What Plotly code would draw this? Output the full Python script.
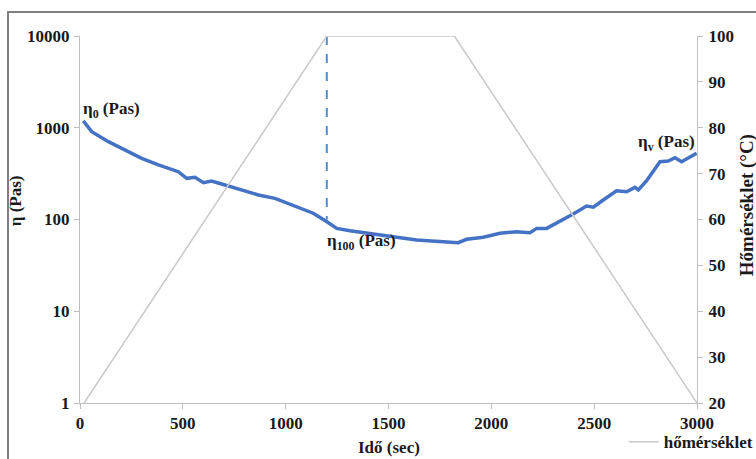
import plotly.graph_objects as go

# Viscosity curve (Pas) vs time (sec)
time_s = [16, 57, 138, 219, 300, 381, 478, 519, 559, 600, 640, 705, 786, 867, 948,
          1029, 1094, 1134, 1199, 1248, 1313, 1394, 1475, 1540, 1637, 1750, 1839,
          1880, 1961, 2042, 2123, 2188, 2220, 2269, 2334, 2398, 2463, 2496, 2544,
          2609, 2658, 2698, 2715, 2755, 2820, 2860, 2893, 2925, 2998]
eta = [1186, 906, 705, 571, 464, 393, 332, 281, 288, 252, 263, 238, 210, 185, 170,
       144, 126, 117, 95, 80, 75.5, 70.8, 66, 64, 59.8, 58.3, 55.9,
       60.8, 64, 70.8, 73.6, 71.8, 80, 80, 95, 115, 140, 136, 163,
       206, 201, 224, 210, 265, 427, 434, 472, 427, 526]

# Temperature program
temp_time = [20, 1200, 1820, 3000]
temp_c = [20, 100, 100, 20]

# Dashed marker at 1200 s
dash_x = [1200, 1200]
dash_y = [10000, 100]

left_ticks = [1, 10, 100, 1000, 10000]
right_ticks = [20, 30, 40, 50, 60, 70, 80, 90, 100]
x_ticks = [0, 500, 1000, 1500, 2000, 2500, 3000]

FONT = "Liberation Serif, Times New Roman, serif"
FS = 17

fig = go.Figure()
fig.add_trace(go.Scatter(x=temp_time, y=temp_c, mode="lines", yaxis="y2",
                         name="hőmérséklet", line=dict(color="#c9c9c9", width=1.5)))
fig.add_trace(go.Scatter(x=dash_x, y=dash_y, mode="lines", showlegend=False,
                         line=dict(color="#4f8fcc", width=2, dash="dash")))
fig.add_trace(go.Scatter(x=time_s, y=eta, mode="lines", showlegend=False,
                         line=dict(color="#4472c4", width=3.5)))

axis_common = dict(showgrid=False, zeroline=False, showline=True, linecolor="#bfbfbf",
                   linewidth=1, ticks="outside", ticklen=5, tickcolor="#bfbfbf",
                   tickfont=dict(family=FONT, size=FS, color="#1a1a1a", weight="bold"))

fig.update_layout(
    width=756, height=459,
    margin=dict(l=80, r=59, t=36, b=56, autoexpand=False),
    paper_bgcolor="white", plot_bgcolor="white",
    xaxis=dict(range=[0, 3000], tickvals=x_ticks, automargin=False, **axis_common),
    yaxis=dict(type="log", range=[0, 4], tickvals=left_ticks, automargin=False,
               ticklabelstandoff=1,
               ticktext=[str(v) for v in left_ticks], **axis_common),
    yaxis2=dict(overlaying="y", side="right", range=[20, 100], tickvals=right_ticks,
                automargin=False, ticklabelstandoff=2, **axis_common),
    showlegend=True,
    legend=dict(x=1.1, y=-0.058, xanchor="right", yanchor="top",
                font=dict(family=FONT, size=FS, color="#1a1a1a", weight="bold"),
                bgcolor="rgba(0,0,0,0)", itemwidth=30),
)

ann_font = dict(family=FONT, size=FS, color="#1a1a1a", weight="bold")
annotations = [
    dict(text="Idő (sec)", x=0.5, y=-0.12, xref="paper", yref="paper",
         xanchor="center", yanchor="middle", showarrow=False, font=ann_font),
    dict(text="η (Pas)", x=-0.104, y=0.552, xref="paper", yref="paper", textangle=-90,
         xanchor="center", yanchor="middle", showarrow=False, font=ann_font),
    dict(text="Hőmérséklet (°C)", x=1.08, y=0.54, xref="paper", yref="paper",
         textangle=-90, xanchor="center", yanchor="middle", showarrow=False,
         font=dict(family=FONT, size=19, color="#1a1a1a", weight="bold")),
    dict(text="η<sub>0</sub> (Pas)", x=5, y=0.798, xref="x", yref="paper",
         xanchor="left", yanchor="middle", showarrow=False, font=ann_font),
    dict(text="η<sub>100</sub> (Pas)", x=1190, y=0.438, xref="x", yref="paper",
         xanchor="left", yanchor="middle", showarrow=False, font=ann_font),
    dict(text="η<sub>v</sub> (Pas)", x=3000, y=0.708, xref="x", yref="paper",
         xanchor="right", yanchor="middle", showarrow=False, font=ann_font),
]
fig.update_layout(annotations=annotations)

# outer frame (top and left edges visible)
fig.add_shape(type="path", xref="paper", yref="paper",
              path="M -0.1167,-0.2 L -0.1167,1.0654 L 1.2,1.0654",
              line=dict(color="#7f7f7f", width=2))

fig.write_html("out.html")
